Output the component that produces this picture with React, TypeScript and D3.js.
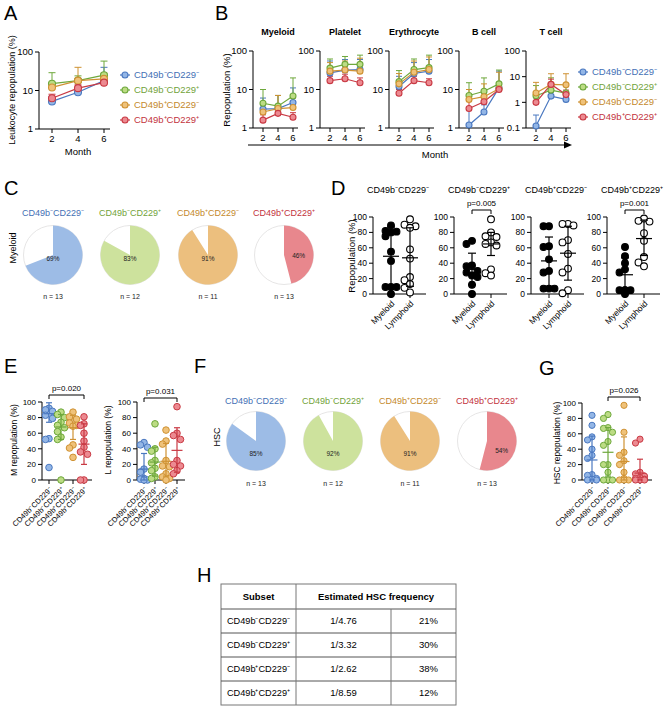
import React from 'react';
import * as d3 from 'd3';

const FONT = "'Liberation Sans', Arial, Helvetica, sans-serif";

// ---------- shared ----------
const subsets = ['CD49b⁻CD229⁻', 'CD49b⁻CD229⁺', 'CD49b⁺CD229⁻', 'CD49b⁺CD229⁺'];
const strokeCol = ['#4a78c0', '#6ea83c', '#cf9233', '#c93a44'];
const fillCol = ['#93b6e6', '#bcdc84', '#efc27a', '#ec8a91'];
const textCol = ['#4470b5', '#72a33a', '#c4892c', '#c3333d'];
const pieCol = ['#9dbce6', '#cde29d', '#ecbf7e', '#e8878d'];

// ---------- A ----------
const months = [2, 4, 6];
const leukoMean = [
  [5.2, 9, 18],
  [15, 18, 25],
  [12, 18, 20],
  [6.3, 11.5, 16],
];
const leukoUpper = [
  [7, 20, 40],
  [29, 24, 58],
  [16, 40, 28],
  [8, 14, 20],
];
const logTicksMain = [1, 10, 100];
const logTicksT = [0.1, 1, 10, 100];

// ---------- B ----------
const lineageTitles = ['Myeloid', 'Platelet', 'Erythrocyte', 'B cell', 'T cell'];
const lineageMean = [
  [[3.1, 3.2, 4.6], [4.4, 3.7, 6.8], [2.6, 3.2, 3.4], [1.6, 2.4, 1.9]],
  [[27, 32, 33], [36, 45, 45], [30, 32, 30], [17, 19, 15]],
  [[12, 26, 30], [16, 33, 37], [14, 28, 33], [8, 17, 15]],
  [[1.2, 2.6, 11], [7, 9, 14], [5.5, 6.5, 10.5], [3.2, 4.8, 10]],
  [[0.12, 1.75, 1.3], [1.8, 3.0, 2.3], [2.3, 5.0, 4.8], [1.0, 5.0, 2.0]],
];
const lineageUpper = [
  [[6, 7, 11], [10, 7, 20], [4, 7, 6], [2.2, 3, 2.5]],
  [[55, 60, 60], [62, 72, 78], [50, 55, 65], [22, 25, 20]],
  [[22, 50, 60], [31, 62, 78], [26, 55, 70], [10, 22, 19]],
  [[3, 4, 30], [15, 20, 32], [10, 14, 28], [5, 7, 14]],
  [[0.32, 2.5, 2], [4.5, 9, 5], [6, 13, 13], [1.5, 8, 3]],
];

// ---------- C / F ----------
const myeloidPct = [69, 83, 91, 46];
const hscPct = [85, 92, 91, 54];
const nMice = [13, 12, 11, 13];

// ---------- D ----------
const dMyeloid = [
  [89, 82, 81, 80, 75, 55, 43, 9, 9, 9, 0],
  [69, 65, 37, 36, 30, 28, 24, 22, 12, 0],
  [88, 88, 62, 61, 45, 30, 28, 7, 7, 7],
  [61, 49, 40, 32, 28, 5, 5, 5, 5, 0],
];
const dLymphoid = [
  [97, 90, 88, 86, 58, 46, 22, 18, 13, 8, 2],
  [97, 80, 75, 74, 67, 65, 63, 32, 27, 24],
  [91, 91, 89, 70, 67, 52, 33, 28, 5, 1],
  [98, 95, 94, 79, 69, 48, 41, 36],
];
const dMyeloidStats = [[49, 9, 87], [32, 12, 53], [43, 10, 74], [25, 5, 47]];
const dLymphoidStats = [[47, 10, 86], [65, 50, 80], [53, 18, 88], [72, 50, 96]];
const dPvals = ['', 'p=0.005', '', 'p=0.001'];
const dGroups = ['Myeloid', 'Lymphoid'];
const linTicks = [0, 20, 40, 60, 80, 100];

// ---------- E ----------
const eM = [
  [92, 90, 88, 83, 79, 53, 52, 16],
  [87, 84, 80, 74, 70, 67, 62, 55, 52, 0],
  [87, 81, 78, 73, 70, 69, 45, 41, 29],
  [81, 72, 70, 60, 50, 42, 36, 33, 0, 0],
];
const eMStats = [[85, 74, 99], [68, 52, 84], [67, 52, 83], [46, 20, 72]];
const eL = [
  [48, 45, 42, 14, 10, 2, 1, 0, 0],
  [72, 40, 37, 25, 22, 15, 12, 4, 2],
  [64, 50, 46, 25, 18, 17, 8, 4, 2, 0],
  [94, 60, 57, 52, 25, 20, 18, 12, 8],
];
const eLStats = [[14, 0, 34], [23, 5, 42], [24, 5, 47], [38, 10, 67]];

// ---------- G ----------
const gHSC = [
  [84, 71, 56, 52, 40, 32, 28, 7, 6, 2, 1, 0, 0],
  [85, 80, 68, 67, 62, 50, 45, 20, 20, 10, 0, 0, 0],
  [97, 62, 36, 32, 25, 20, 10, 2, 0, 0, 0],
  [53, 48, 10, 8, 5, 3, 2, 1, 0, 0, 0],
];
const gStats = [[26, 0, 57], [36, 5, 68], [24, 0, 56], [9, 0, 27]];

// ---------- H ----------
const tableFreq = ['1/4.76', '1/3.32', '1/2.62', '1/8.59'];
const tablePct = ['21%', '30%', '38%', '12%'];

// ================= helpers =================
function dodge(vals: number[], y: (v: number) => number, cx: number, r: number, step: number, maxK: number) {
  const placed: { x: number; y: number }[] = [];
  const minD = r * 1.7;
  const ks = [0];
  for (let k = 1; k <= maxK; k++) ks.push(-k, k);
  return vals.map((v) => {
    const py = y(v);
    let best = cx;
    let bestD = -1;
    for (const k of ks) {
      const px = cx + k * step;
      const d = placed.length ? Math.min(...placed.map((p) => Math.hypot(p.x - px, p.y - py))) : Infinity;
      if (d >= minD) {
        best = px;
        break;
      }
      if (d > bestD) {
        bestD = d;
        best = px;
      }
    }
    placed.push({ x: best, y: py });
    return { x: best, y: py };
  });
}

function LogPanel(props: any) {
  const { axisX, first, step, axisEnd, yTop, yBot, domain, ticks, means, uppers, r, fs, capW } = props;
  const x = d3.scaleLinear().domain([2, 6]).range([axisX + first, axisX + first + 2 * step]);
  const y = d3.scaleLog().domain(domain).range([yBot, yTop]);
  const line = d3
    .line<number>()
    .x((_, i) => x(months[i]))
    .y((d) => y(d));
  return (
    <g>
      <line x1={axisX} x2={axisX} y1={yTop} y2={yBot} stroke="#000" strokeWidth={1} />
      {ticks.map((t: number) => (
        <g key={'t' + t}>
          <line x1={axisX - 4} x2={axisX} y1={y(t)} y2={y(t)} stroke="#000" />
          <text x={axisX - 6} y={y(t)} dy="0.35em" textAnchor="end" fontSize={fs}>
            {t}
          </text>
        </g>
      ))}
      <line x1={axisX} x2={axisEnd} y1={yBot} y2={yBot} stroke="#000" />
      {months.map((m) => (
        <g key={'m' + m}>
          <line x1={x(m)} x2={x(m)} y1={yBot} y2={yBot + 4} stroke="#000" />
          <text x={x(m)} y={yBot + 13} textAnchor="middle" fontSize={fs}>
            {m}
          </text>
        </g>
      ))}
      {means.map((s: number[], si: number) =>
        s.map((v, i) => {
          const yu = y(uppers[si][i]);
          const xx = x(months[i]);
          return (
            <g key={'e' + si + i}>
              <line x1={xx} x2={xx} y1={y(v)} y2={yu} stroke={strokeCol[si]} strokeWidth={1} />
              <line x1={xx - capW / 2} x2={xx + capW / 2} y1={yu} y2={yu} stroke={strokeCol[si]} strokeWidth={1} />
            </g>
          );
        })
      )}
      {means.map((s: number[], si: number) => (
        <path key={'l' + si} d={line(s) || ''} fill="none" stroke={strokeCol[si]} strokeWidth={1.2} />
      ))}
      {means.map((s: number[], si: number) =>
        s.map((v, i) => (
          <circle
            key={'c' + si + i}
            cx={x(months[i])}
            cy={y(v)}
            r={r}
            fill={fillCol[si]}
            stroke={strokeCol[si]}
            strokeWidth={1.1}
          />
        ))
      )}
    </g>
  );
}

function Legend({ x, ys, fs }: { x: number; ys: number[]; fs: number }) {
  return (
    <g>
      {subsets.map((s, i) => (
        <g key={s}>
          <line x1={x - 5} x2={x + 5} y1={ys[i]} y2={ys[i]} stroke={strokeCol[i]} strokeWidth={1.2} />
          <circle cx={x} cy={ys[i]} r={3} fill={fillCol[i]} stroke={strokeCol[i]} strokeWidth={1.1} />
          <text x={x + 9} y={ys[i]} dy="0.35em" fontSize={fs} fill={textCol[i]}>
            {s}
          </text>
        </g>
      ))}
    </g>
  );
}

function PieRow(props: any) {
  const { cxs, cy, r, pcts, titleY, nY, labelDy } = props;
  const arc = d3.arc<any>();
  return (
    <g>
      {pcts.map((p: number, i: number) => {
        const end = (p / 100) * Math.PI * 2;
        const d = arc({ innerRadius: 0, outerRadius: r, startAngle: 0, endAngle: end }) || '';
        const c = arc.centroid({ innerRadius: 0, outerRadius: r, startAngle: 0, endAngle: end } as any);
        const lx = p < 60 ? cxs[i] + c[0] : cxs[i];
        const ly = p < 60 ? cy + c[1] + labelDy * 0.6 : cy + labelDy;
        return (
          <g key={i}>
            <text x={cxs[i]} y={titleY} textAnchor="middle" fontSize={9} fill={textCol[i]}>
              {subsets[i]}
            </text>
            <circle cx={cxs[i]} cy={cy} r={r} fill="#fff" stroke="#e0dede" strokeWidth={0.8} />
            <path d={d} transform={`translate(${cxs[i]},${cy})`} fill={pieCol[i]} />
            <text x={lx} y={ly} dy="0.35em" textAnchor="middle" fontSize={6.5} fill="#222">
              {p}%
            </text>
            <text x={cxs[i]} y={nY} textAnchor="middle" fontSize={7} fill="#222">
              n = {nMice[i]}
            </text>
          </g>
        );
      })}
    </g>
  );
}

function DotPanel(props: any) {
  const {
    axisX, colX, axisEnd, yTop, yBot, groups, stats, fills, strokes, barCol, r, fs,
    labels, labelFs, meanW, capW, pval, pY, pFrom, pTo, sw, dStep, dMax,
  } = props;
  const y = d3.scaleLinear().domain([0, 100]).range([yBot, yTop]);
  return (
    <g>
      <line x1={axisX} x2={axisX} y1={yTop} y2={yBot} stroke="#000" />
      {linTicks.map((t) => (
        <g key={'t' + t}>
          <line x1={axisX - 4} x2={axisX} y1={y(t)} y2={y(t)} stroke="#000" />
          <text x={axisX - 6} y={y(t)} dy="0.35em" textAnchor="end" fontSize={fs}>
            {t}
          </text>
        </g>
      ))}
      <line x1={axisX} x2={axisEnd} y1={yBot} y2={yBot} stroke="#000" />
      {colX.map((cx: number, gi: number) => (
        <g key={'g' + gi}>
          <line x1={cx} x2={cx} y1={yBot} y2={yBot + 4} stroke="#000" />
          <text
            transform={`translate(${cx + 2},${yBot + 8}) rotate(-45)`}
            textAnchor="end"
            dy="0.35em"
            fontSize={labelFs}
            fill="#000"
          >
            {labels[gi]}
          </text>
          {dodge(groups[gi], y, cx, r, dStep, dMax).map((p, k) => (
            <circle key={k} cx={p.x} cy={p.y} r={r} fill={fills[gi]} stroke={strokes[gi]} strokeWidth={sw} />
          ))}
          {(() => {
            const [m, lo, hi] = stats[gi];
            return (
              <g stroke={barCol[gi]} strokeWidth={1.2}>
                <line x1={cx} x2={cx} y1={y(lo)} y2={y(hi)} />
                <line x1={cx - capW / 2} x2={cx + capW / 2} y1={y(hi)} y2={y(hi)} />
                <line x1={cx - capW / 2} x2={cx + capW / 2} y1={y(lo)} y2={y(lo)} />
                <line x1={cx - meanW / 2} x2={cx + meanW / 2} y1={y(m)} y2={y(m)} />
              </g>
            );
          })()}
        </g>
      ))}
      {pval ? (
        <g>
          <path
            d={`M${colX[pFrom]},${pY + 4}V${pY}H${colX[pTo]}V${pY + 4}`}
            fill="none"
            stroke="#000"
            strokeWidth={1}
          />
          <text x={(colX[pFrom] + colX[pTo]) / 2} y={pY - 4} textAnchor="middle" fontSize={8}>
            {pval}
          </text>
        </g>
      ) : null}
    </g>
  );
}

function Letter({ x, y, t }: { x: number; y: number; t: string }) {
  return (
    <text x={x} y={y} fontSize={20} fill="#000">
      {t}
    </text>
  );
}

function VLabel({ x, y, t, fs }: { x: number; y: number; t: string; fs: number }) {
  return (
    <text transform={`translate(${x},${y}) rotate(-90)`} textAnchor="middle" fontSize={fs} fill="#000">
      {t}
    </text>
  );
}

export default function App() {
  const bAxes = [253, 320, 389, 459, 526];
  const dAxes = [373, 454, 531, 607];
  const tableRows = [584, 609, 633, 657, 681, 705];
  const tCols = [221, 296, 391, 456];
  return (
    <svg
      width={666}
      height={709}
      style={{ position: 'absolute', left: 0, top: 0, background: '#fff' }}
      fontFamily={FONT}
    >
      <rect width={666} height={709} fill="#fff" />

      {/* ---------- A ---------- */}
      <Letter x={4} y={20} t="A" />
      <VLabel x={15} y={90} t="Leukocyte repopulation (%)" fs={9} />
      <LogPanel
        axisX={39} first={13} step={26} axisEnd={110} yTop={52} yBot={129}
        domain={[1, 100]} ticks={logTicksMain} means={leukoMean} uppers={leukoUpper}
        r={3.5} fs={9.5} capW={7}
      />
      <text x={78} y={155} textAnchor="middle" fontSize={9.5}>Month</text>
      <Legend x={125} ys={[75, 90, 105, 120]} fs={9.5} />

      {/* ---------- B ---------- */}
      <Letter x={215} y={20} t="B" />
      <VLabel x={230} y={90} t="Repopulation (%)" fs={9.5} />
      {lineageTitles.map((t, i) => (
        <g key={t}>
          <text x={bAxes[i] + 25} y={35} textAnchor="middle" fontSize={9} fontWeight="bold">
            {t}
          </text>
          <LogPanel
            axisX={bAxes[i]} first={10} step={15} axisEnd={bAxes[i] + 45}
            yTop={51} yBot={128} domain={i === 4 ? [0.1, 100] : [1, 100]}
            ticks={i === 4 ? logTicksT : logTicksMain}
            means={lineageMean[i]} uppers={lineageUpper[i]} r={3} fs={9.5} capW={6}
          />
        </g>
      ))}
      <line x1={248} x2={568} y1={145} y2={145} stroke="#000" strokeWidth={1} />
      <path d="M572,145L564,141.5L564,148.5Z" fill="#000" />
      <text x={435} y={158} textAnchor="middle" fontSize={9.5}>Month</text>
      <Legend x={583} ys={[72, 87, 102, 117]} fs={9.5} />

      {/* ---------- C ---------- */}
      <Letter x={4} y={195} t="C" />
      <VLabel x={16} y={248} t="Myeloid" fs={9} />
      <PieRow cxs={[53, 130, 208, 284]} cy={255} r={29.5} pcts={myeloidPct} titleY={216} nY={299} labelDy={4} />

      {/* ---------- D ---------- */}
      <Letter x={331} y={195} t="D" />
      <VLabel x={355} y={256} t="Repopulation (%)" fs={9.5} />
      {dAxes.map((ax, i) => (
        <g key={'d' + i}>
          <text x={ax + 25} y={193} textAnchor="middle" fontSize={9}>
            {subsets[i]}
          </text>
          <DotPanel
            axisX={ax} colX={[ax + 18, ax + 37]} axisEnd={ax + 53} yTop={217} yBot={294}
            groups={[dMyeloid[i], dLymphoid[i]]} stats={[dMyeloidStats[i], dLymphoidStats[i]]}
            fills={['#000', '#fff']} strokes={['#000', '#000']} barCol={['#000', '#000']}
            r={3.4} fs={8.5} labels={dGroups} labelFs={8.5} meanW={16} capW={8}
            pval={dPvals[i]} pY={210} pFrom={0} pTo={1} sw={1.1} dStep={5.5} dMax={1}
          />
        </g>
      ))}

      {/* ---------- E ---------- */}
      <Letter x={4} y={373} t="E" />
      <VLabel x={17} y={440} t="M repopulation (%)" fs={8.5} />
      <DotPanel
        axisX={42} colX={[49, 61, 73, 84]} axisEnd={92} yTop={402} yBot={480}
        groups={eM} stats={eMStats} fills={fillCol} strokes={strokeCol} barCol={strokeCol}
        r={3.3} fs={8} labels={subsets} labelFs={7.5} meanW={11} capW={6}
        pval="p=0.020" pY={395} pFrom={0} pTo={3} sw={1} dStep={3.5} dMax={1}
      />
      <VLabel x={111} y={440} t="L repopulation (%)" fs={8.5} />
      <DotPanel
        axisX={137} colX={[144, 155, 166, 177]} axisEnd={185} yTop={402} yBot={480}
        groups={eL} stats={eLStats} fills={fillCol} strokes={strokeCol} barCol={strokeCol}
        r={3.3} fs={8} labels={subsets} labelFs={7.5} meanW={11} capW={6}
        pval="p=0.031" pY={398} pFrom={0} pTo={3} sw={1} dStep={3.5} dMax={1}
      />

      {/* ---------- F ---------- */}
      <Letter x={194} y={373} t="F" />
      <VLabel x={220} y={437} t="HSC" fs={9} />
      <PieRow cxs={[256, 333, 410, 487]} cy={441} r={29.5} pcts={hscPct} titleY={404} nY={486} labelDy={13} />

      {/* ---------- G ---------- */}
      <Letter x={539} y={375} t="G" />
      <VLabel x={560} y={443} t="HSC repopulation (%)" fs={8.5} />
      <DotPanel
        axisX={582} colX={[592, 608, 624, 640]} axisEnd={652} yTop={403} yBot={480}
        groups={gHSC} stats={gStats} fills={fillCol} strokes={strokeCol} barCol={strokeCol}
        r={3.1} fs={8} labels={subsets} labelFs={7.5} meanW={11} capW={6}
        pval="p=0.026" pY={397} pFrom={1} pTo={3} sw={1} dStep={4.5} dMax={1}
      />

      {/* ---------- H ---------- */}
      <Letter x={197} y={582} t="H" />
      <g stroke="#777" strokeWidth={1} fill="none">
        <rect x={tCols[0]} y={tableRows[0]} width={tCols[3] - tCols[0]} height={tableRows[5] - tableRows[0]} />
        {tableRows.slice(1, 5).map((ry) => (
          <line key={ry} x1={tCols[0]} x2={tCols[3]} y1={ry} y2={ry} stroke="#555" />
        ))}
        <line x1={tCols[1]} x2={tCols[1]} y1={tableRows[0]} y2={tableRows[5]} />
        <line x1={tCols[2]} x2={tCols[2]} y1={tableRows[1]} y2={tableRows[5]} />
      </g>
      <text x={(tCols[0] + tCols[1]) / 2} y={(tableRows[0] + tableRows[1]) / 2} dy="0.35em" textAnchor="middle" fontSize={9.5} fontWeight="bold">
        Subset
      </text>
      <text x={(tCols[1] + tCols[3]) / 2} y={(tableRows[0] + tableRows[1]) / 2} dy="0.35em" textAnchor="middle" fontSize={9.5} fontWeight="bold">
        Estimated HSC frequency
      </text>
      {subsets.map((s, i) => {
        const cy = (tableRows[i + 1] + tableRows[i + 2]) / 2;
        return (
          <g key={'row' + i}>
            <text x={(tCols[0] + tCols[1]) / 2} y={cy} dy="0.35em" textAnchor="middle" fontSize={9.2}>
              {s}
            </text>
            <text x={(tCols[1] + tCols[2]) / 2} y={cy} dy="0.35em" textAnchor="middle" fontSize={9.5}>
              {tableFreq[i]}
            </text>
            <text x={(tCols[2] + tCols[3]) / 2 + 5} y={cy} dy="0.35em" textAnchor="middle" fontSize={9.5}>
              {tablePct[i]}
            </text>
          </g>
        );
      })}
    </svg>
  );
}
